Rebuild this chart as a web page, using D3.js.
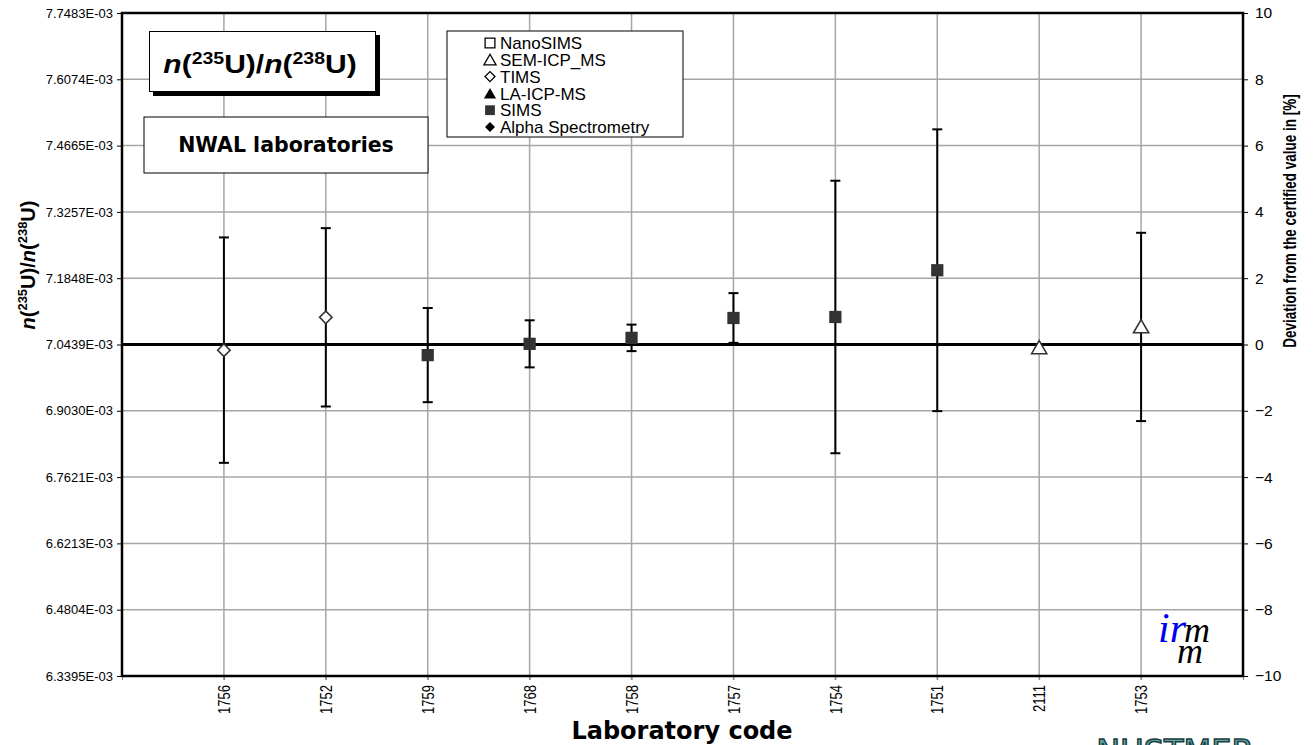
<!DOCTYPE html>
<html>
<head>
<meta charset="utf-8">
<script src="https://cdn.jsdelivr.net/npm/d3@7"></script>
<style>
  body { margin: 0; background: #fff; }
  svg { display: block; font-family: "Liberation Sans", Arial, sans-serif; }
</style>
</head>
<body>
<div class="canvas"></div>
<script>
// data (deviation from certified value, %)
const labs = ['1756', '1752', '1759', '1768', '1758', '1757', '1754', '1751', '2111', '1753'];
const methods = ['TIMS', 'TIMS', 'SIMS', 'SIMS', 'SIMS', 'SIMS', 'SIMS', 'SIMS', 'SEM-ICP_MS', 'SEM-ICP_MS'];
const deviation = [-0.17, 0.82, -0.32, 0.02, 0.2, 0.8, 0.83, 2.24, -0.1, 0.53];
const uncertainty = [3.4, 2.69, 1.42, 0.71, 0.4, 0.75, 4.11, 4.25, 0, 2.84];

const rightTicks = [-10, -8, -6, -4, -2, 0, 2, 4, 6, 8, 10];
const leftTickLabels = ['6.3395E-03', '6.4804E-03', '6.6213E-03', '6.7621E-03', '6.9030E-03',
  '7.0439E-03', '7.1848E-03', '7.3257E-03', '7.4665E-03', '7.6074E-03', '7.7483E-03'];
const legendItems = ['NanoSIMS', 'SEM-ICP_MS', 'TIMS', 'LA-ICP-MS', 'SIMS', 'Alpha Spectrometry'];

//1. dimensions
const width = 1315, height = 745;
const margin = {top: 13, right: 72, bottom: 69, left: 122};
const graphWidth = width - margin.left - margin.right;
const graphHeight = height - margin.top - margin.bottom;

const svg = d3.select('.canvas').append('svg')
    .attr('width', width)
    .attr('height', height);

const graph = svg.append('g')
    .attr('transform', `translate(${margin.left},${margin.top})`);

//2. scales - categories sit on integer positions 1..10, one empty slot on the right
const xScale = d3.scaleLinear().domain([0, labs.length + 1]).range([0, graphWidth]);
const yScale = d3.scaleLinear().domain([-10, 10]).range([graphHeight, 0]);

//3. grid
graph.append('g').selectAll('line')
    .data(labs)
    .enter().append('line')
    .attr('x1', (d, i) => xScale(i + 1)).attr('x2', (d, i) => xScale(i + 1))
    .attr('y1', 0).attr('y2', graphHeight + 4)
    .attr('stroke', '#a6a6a6').attr('stroke-width', 1.5);

graph.append('g').selectAll('line')
    .data(rightTicks.filter(t => t !== 0 && Math.abs(t) !== 10))
    .enter().append('line')
    .attr('x1', 0).attr('x2', graphWidth)
    .attr('y1', d => yScale(d)).attr('y2', d => yScale(d))
    .attr('stroke', '#a6a6a6').attr('stroke-width', 1.5);

//4. axes
const leftAxis = d3.axisLeft(yScale)
    .tickValues(rightTicks)
    .tickSize(5)
    .tickPadding(4)
    .tickFormat((d, i) => leftTickLabels[i]);
const rightAxis = d3.axisRight(yScale)
    .tickValues(rightTicks)
    .tickSize(5)
    .tickPadding(7);
const bottomAxis = d3.axisBottom(xScale)
    .tickValues(d3.range(0, labs.length + 2))
    .tickSize(4)
    .tickPadding(8)
    .tickFormat(d => (d >= 1 && d <= labs.length) ? labs[d - 1] : '');

const leftGroup = graph.append('g').call(leftAxis);
const rightGroup = graph.append('g').attr('transform', `translate(${graphWidth},0)`).call(rightAxis);
const bottomGroup = graph.append('g').attr('transform', `translate(0,${graphHeight})`).call(bottomAxis);

[leftGroup, rightGroup, bottomGroup].forEach(g => {
    g.select('.domain').remove();
    g.selectAll('line').attr('stroke', '#000').attr('stroke-width', 1);
    g.selectAll('text').attr('font-size', 13).attr('fill', '#000')
        .attr('font-family', '"Liberation Sans", Arial, sans-serif');
});
rightGroup.selectAll('text').attr('font-size', 15.5);
bottomGroup.selectAll('line').attr('stroke', '#888');
bottomGroup.selectAll('text')
    .attr('transform', 'scale(1.25,1) rotate(-90)')
    .attr('text-anchor', 'end')
    .attr('x', -9).attr('y', 0).attr('dy', '0.35em');

// frame and zero line
graph.append('rect')
    .attr('width', graphWidth).attr('height', graphHeight)
    .attr('fill', 'none').attr('stroke', '#000').attr('stroke-width', 2.5);
graph.append('line')
    .attr('x1', 0).attr('x2', graphWidth)
    .attr('y1', yScale(0)).attr('y2', yScale(0))
    .attr('stroke', '#000').attr('stroke-width', 3);

//5. error bars
const data = labs.map((lab, i) => ({lab, i, method: methods[i], dev: deviation[i], u: uncertainty[i]}));
const bars = graph.append('g').selectAll('g')
    .data(data.filter(d => d.u > 0))
    .enter().append('g');
bars.append('line')
    .attr('x1', d => xScale(d.i + 1)).attr('x2', d => xScale(d.i + 1))
    .attr('y1', d => yScale(d.dev + d.u)).attr('y2', d => yScale(d.dev - d.u))
    .attr('stroke', '#000').attr('stroke-width', 2);
[1, -1].forEach(s => {
    bars.append('line')
        .attr('x1', d => xScale(d.i + 1) - 5).attr('x2', d => xScale(d.i + 1) + 5)
        .attr('y1', d => yScale(d.dev + s * d.u)).attr('y2', d => yScale(d.dev + s * d.u))
        .attr('stroke', '#000').attr('stroke-width', 2);
});

//6. markers
const markerStyle = {
    'NanoSIMS': {type: 'square', fill: '#fff'},
    'SEM-ICP_MS': {type: 'triangle', fill: '#fff'},
    'TIMS': {type: 'diamond', fill: '#fff'},
    'LA-ICP-MS': {type: 'triangle', fill: '#000'},
    'SIMS': {type: 'square', fill: '#333'},
    'Alpha Spectrometry': {type: 'diamond', fill: '#000'}
};
// diamond = square turned by 45 degrees
const symbolPath = (m, big) => {
    const t = markerStyle[m].type;
    const k = big ? 1 : 0.8;
    if (t === 'triangle') return d3.symbol().type(d3.symbolTriangle).size(100 * k * k)();
    if (t === 'diamond') return d3.symbol().type(d3.symbolSquare).size(78 * k * k)();
    return d3.symbol().type(d3.symbolSquare).size(150 * k * k)();
};
const markerTransform = (m, x, y) => {
    const t = markerStyle[m].type;
    if (t === 'diamond') return `translate(${x},${y}) rotate(45)`;
    if (t === 'triangle') return `translate(${x},${y + 1.5})`;
    return `translate(${x},${y})`;
};
graph.append('g').selectAll('path')
    .data(data)
    .enter().append('path')
    .attr('d', d => symbolPath(d.method, true))
    .attr('transform', d => markerTransform(d.method, xScale(d.i + 1), yScale(d.dev)))
    .attr('fill', d => markerStyle[d.method].fill)
    .attr('stroke', '#333')
    .attr('stroke-width', d => markerStyle[d.method].fill === '#fff' ? 1.6 : 0);

//7. legend
const legend = svg.append('g').attr('transform', 'translate(447,31)');
legend.append('rect')
    .attr('width', 236).attr('height', 106)
    .attr('fill', '#fff').attr('stroke', '#000').attr('stroke-width', 1);
const rows = legend.selectAll('g.row')
    .data(legendItems)
    .enter().append('g')
    .attr('class', 'row')
    .attr('transform', (d, i) => `translate(0,${12 + i * 16.8})`);
rows.append('path')
    .attr('d', d => symbolPath(d, false))
    .attr('transform', d => markerTransform(d, 43, 0))
    .attr('fill', d => markerStyle[d].fill)
    .attr('stroke', '#000')
    .attr('stroke-width', d => markerStyle[d].fill === '#fff' ? 1.3 : 0);
rows.append('text')
    .attr('x', 53).attr('dy', '0.36em')
    .attr('font-size', 17)
    .text(d => d);

//8. title boxes
const ratioText = (sel, size) => {
    sel.append('tspan').attr('font-style', 'italic').text('n');
    sel.append('tspan').text('(');
    sel.append('tspan').attr('font-size', size * 0.65).attr('dy', -size * 0.38).text('235');
    sel.append('tspan').attr('dy', size * 0.38).text('U)/');
    sel.append('tspan').attr('font-style', 'italic').text('n');
    sel.append('tspan').text('(');
    sel.append('tspan').attr('font-size', size * 0.65).attr('dy', -size * 0.38).text('238');
    sel.append('tspan').attr('dy', size * 0.38).text('U)');
};

svg.append('rect').attr('x', 153).attr('y', 35).attr('width', 227).attr('height', 61).attr('fill', '#000');
svg.append('rect').attr('x', 149.5).attr('y', 31.5).attr('width', 226).attr('height', 60)
    .attr('fill', '#fff').attr('stroke', '#000').attr('stroke-width', 1);
const title = svg.append('text')
    .attr('transform', 'translate(260,73) scale(1.2,1)')
    .attr('text-anchor', 'middle')
    .attr('font-size', 25).attr('font-weight', 'bold')
    .attr('font-family', '"Liberation Sans", Arial, sans-serif');
ratioText(title, 25);

svg.append('rect').attr('x', 144).attr('y', 117).attr('width', 284).attr('height', 56)
    .attr('fill', '#fff').attr('stroke', '#000').attr('stroke-width', 1);
svg.append('text')
    .attr('x', 286).attr('y', 152)
    .attr('text-anchor', 'middle')
    .attr('font-family', '"DejaVu Sans", Verdana, sans-serif')
    .attr('font-size', 20.5).attr('font-weight', 'bold')
    .text('NWAL laboratories');

//9. axis titles
const yTitle = svg.append('text')
    .attr('transform', 'translate(35,265) rotate(-90)')
    .attr('text-anchor', 'middle')
    .attr('font-size', 20).attr('font-weight', 'bold');
ratioText(yTitle, 20);

svg.append('text')
    .attr('transform', 'translate(1296,221) scale(1.3,1) rotate(-90)')
    .attr('text-anchor', 'middle')
    .attr('font-size', 13.5).attr('font-weight', 'bold')
    .text('Deviation from the certified value in [%]');

svg.append('text')
    .attr('x', 682).attr('y', 739)
    .attr('text-anchor', 'middle')
    .attr('font-family', '"DejaVu Sans", Verdana, sans-serif')
    .attr('font-size', 24).attr('font-weight', 'bold')
    .text('Laboratory code');

svg.append('text')
    .attr('x', 122).attr('y', 755)
    .attr('font-size', 13).attr('fill', '#999')
    .text('This graph displays all measurement results and their associated uncertainties');

//10. logos
const irm = svg.append('text')
    .attr('x', 1158).attr('y', 642)
    .attr('font-family', '"Liberation Serif", "DejaVu Serif", serif')
    .attr('font-style', 'italic');
irm.append('tspan').attr('font-size', 42).attr('fill', '#0000ee').text('ir');
irm.append('tspan').attr('font-size', 36).attr('fill', '#000').attr('dx', -2).text('m');
irm.append('tspan').attr('x', 1177).attr('dy', 21).attr('font-size', 36).attr('fill', '#000').text('m');

svg.append('text')
    .attr('x', 1175).attr('y', 762)
    .attr('text-anchor', 'middle')
    .attr('font-family', '"DejaVu Sans", sans-serif')
    .attr('font-size', 32)
    .attr('fill', '#5fa9a9').attr('stroke', '#1d3d3d').attr('stroke-width', 1.5)
    .text('NUSTMER');
</script>
</body>
</html>
